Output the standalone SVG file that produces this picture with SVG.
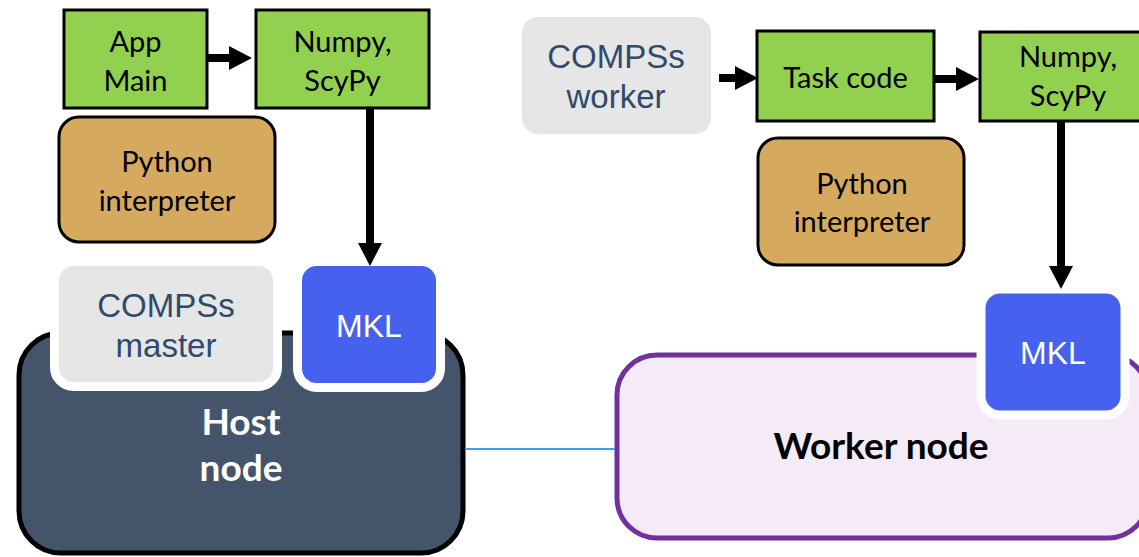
<svg xmlns="http://www.w3.org/2000/svg" width="1139" height="557" viewBox="0 0 1139 557">
<style>
.green{fill:#92D050;stroke:#000;stroke-width:3}
.tan{fill:#D5AA5F;stroke:#000;stroke-width:3}
.gray{fill:#E7E6E6;stroke:#fff;stroke-width:9}
.mkl{fill:#4661EE;stroke:#fff;stroke-width:9}
.cal{font-family:Lato,"Open Sans",sans-serif;font-size:29px;fill:#000;text-anchor:middle}
.ari{font-family:"Liberation Sans",Arial,sans-serif;font-size:33px;fill:#2E4A6C;text-anchor:middle}
.mk{font-family:"Liberation Sans",Arial,sans-serif;font-size:32px;fill:#fff;text-anchor:middle}
.bold{font-family:Lato,"Open Sans",sans-serif;font-weight:bold;font-size:37px;text-anchor:middle}
.arr{stroke:#000;stroke-width:8;fill:none;marker-end:url(#ah)}
</style>
<defs>
<marker id="ah" viewBox="0 0 24 24" refX="1" refY="12" markerWidth="24" markerHeight="24" markerUnits="userSpaceOnUse" orient="auto">
<path d="M0,0 L23,12 L0,24 Z" fill="#000"/>
</marker>
</defs>
<rect width="1139" height="557" fill="#fff"/>

<g id="host-node">
<rect x="19" y="333" width="444" height="220" rx="42" fill="#44546A" stroke="#000" stroke-width="5"/>
<text class="bold" x="241" y="435" fill="#fff">Host</text>
<text class="bold" x="241" y="481" fill="#fff">node</text>
</g>

<g id="worker-node">
<rect x="617" y="355" width="531" height="183" rx="40" fill="#F5EBF6" stroke="#7030A0" stroke-width="5"/>
<text class="bold" x="881" y="459" fill="#000">Worker node</text>
</g>

<g id="app-main">
<rect class="green" x="64" y="10" width="143" height="98"/>
<text class="cal" x="135.5" y="52">App</text>
<text class="cal" x="135.5" y="91">Main</text>
</g>

<g id="numpy-host">
<rect class="green" x="256" y="10" width="173" height="98"/>
<text class="cal" x="342.5" y="52">Numpy,</text>
<text class="cal" x="342.5" y="91">ScyPy</text>
</g>

<g id="python-host">
<rect class="tan" x="59" y="117" width="216" height="125" rx="20"/>
<text class="cal" x="167" y="172">Python</text>
<text class="cal" x="167" y="211">interpreter</text>
</g>

<g id="compss-master">
<rect class="gray" x="54.5" y="261.5" width="223" height="125" rx="19"/>
<text class="ari" x="166" y="317">COMPSs</text>
<text class="ari" x="166" y="357">master</text>
</g>

<g id="mkl-host">
<rect class="mkl" x="297.5" y="261.5" width="143" height="126" rx="19"/>
<text class="mk" x="369" y="337">MKL</text>
</g>

<g id="compss-worker">
<rect x="522" y="17" width="189" height="117" rx="16" fill="#E7E6E6"/>
<text class="ari" x="616" y="68">COMPSs</text>
<text class="ari" x="616" y="108">worker</text>
</g>

<g id="task-code">
<rect class="green" x="757" y="31" width="177" height="90"/>
<text class="cal" x="845.5" y="88">Task code</text>
</g>

<g id="numpy-worker">
<rect class="green" x="980" y="32" width="170" height="89"/>
<text class="cal" x="1068" y="67">Numpy,</text>
<text class="cal" x="1068" y="106">ScyPy</text>
</g>

<g id="python-worker">
<rect class="tan" x="758" y="138" width="206" height="127" rx="20"/>
<text class="cal" x="862" y="194">Python</text>
<text class="cal" x="862" y="232">interpreter</text>
</g>

<g id="mkl-worker">
<rect class="mkl" x="981" y="289" width="144" height="126" rx="19"/>
<text class="mk" x="1053" y="364">MKL</text>
</g>

<g id="connectors">
<line class="arr" x1="207" y1="58" x2="230" y2="58"/>
<line class="arr" x1="370" y1="108" x2="370" y2="244"/>
<line class="arr" x1="719" y1="78" x2="736" y2="78"/>
<line class="arr" x1="934" y1="79" x2="957" y2="79"/>
<line class="arr" x1="1061" y1="121" x2="1061" y2="267"/>
<line x1="465" y1="449" x2="615" y2="449" stroke="#3D9DF0" stroke-width="2"/>
</g>
</svg>
